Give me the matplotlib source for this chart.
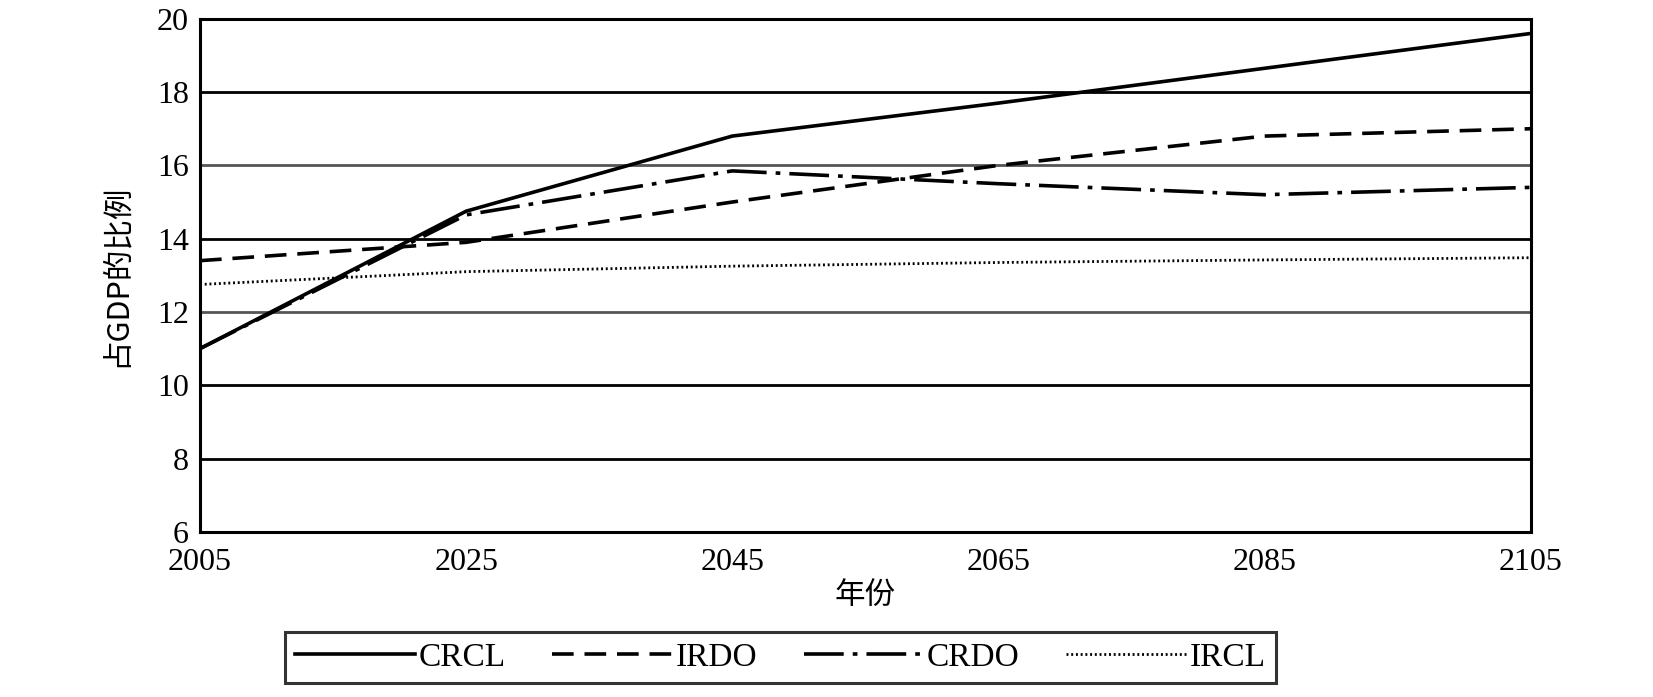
import matplotlib
matplotlib.use("Agg")
import matplotlib.pyplot as plt

plt.rcParams["font.family"] = ["Liberation Serif", "Noto Sans CJK SC", "DejaVu Sans"]

years = [2005, 2025, 2045, 2065, 2085, 2105]
crcl = [11.0, 14.75, 16.8, 17.7, 18.65, 19.6]
irdo = [13.4, 13.9, 15.0, 16.0, 16.8, 17.0]
crdo = [11.0, 14.65, 15.85, 15.5, 15.2, 15.4]
ircl = [12.75, 13.1, 13.25, 13.35, 13.42, 13.48]

yticks = [6, 8, 10, 12, 14, 16, 18, 20]
xticks = [2005, 2025, 2045, 2065, 2085, 2105]

fig = plt.figure(figsize=(16.53, 6.97), dpi=100)
ax = fig.add_axes([0.121, 0.237, 0.805, 0.736])

# horizontal reference lines (16 and 12 are drawn a bit lighter in the original)
for v in yticks[1:-1]:
    ax.axhline(v, color="#555555" if v in (12, 16) else "black", linewidth=2.0, zorder=1)

lw = 2.6
ax.plot(years, crcl, color="black", linewidth=lw, linestyle="-", label="CRCL", zorder=3)
ax.plot(years, irdo, color="black", linewidth=lw, linestyle=(0, (6, 3)), label="IRDO", zorder=3)
ax.plot(years, crdo, color="black", linewidth=lw, linestyle=(0, (11, 2.5, 1.3, 2.5)), label="CRDO", zorder=3)
ax.plot(years, ircl, color="black", linewidth=2.0, linestyle=(0, (0.7, 1.0)), label="IRCL", zorder=3)

ax.set_xlim(2005, 2105)
ax.set_ylim(6, 20)
ax.set_xticks(xticks)
ax.set_yticks(yticks)
ax.tick_params(axis="y", length=0, labelsize=23, pad=8)
ax.tick_params(axis="x", length=0, labelsize=23, pad=12)
for s in ax.spines.values():
    s.set_linewidth(2.2)
    s.set_color("black")

ax.set_ylabel("占GDP的比例", fontsize=22, family=["Noto Sans CJK SC", "DejaVu Sans"], labelpad=18)
ax.set_xlabel("年份", fontsize=22, family=["Noto Sans CJK SC", "DejaVu Sans"], labelpad=2)

leg = fig.legend(loc="center", bbox_to_anchor=(0.472, 0.057), ncol=4, fontsize=24,
                 frameon=True, fancybox=False, edgecolor="black", handlelength=3.6,
                 columnspacing=1.4, handletextpad=0.1, borderpad=0.3)
leg.get_frame().set_linewidth(2.2)

fig.savefig("out.png", dpi=100)
